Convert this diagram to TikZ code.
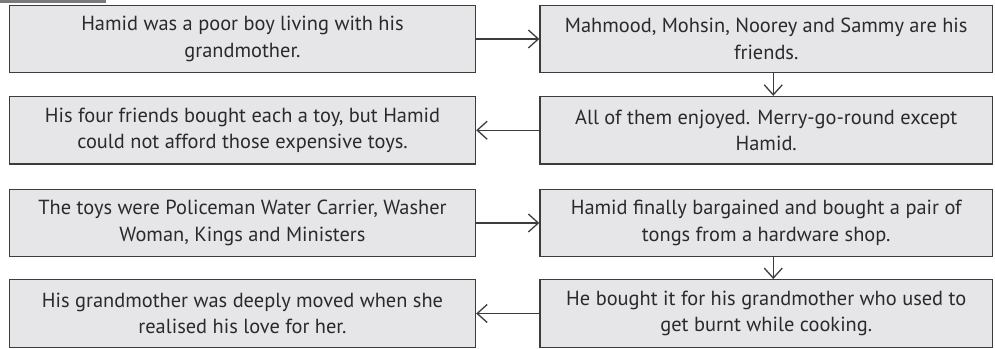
\documentclass[tikz,border=0pt]{standalone}
\usepackage{fontspec}
\setmainfont{PT Sans}
\usetikzlibrary{arrows.meta}
\definecolor{boxfill}{HTML}{E6E6E8}
\definecolor{boxline}{HTML}{3C3C3C}
\definecolor{txt}{HTML}{2A2A2A}
\definecolor{tabcol}{HTML}{7A7A7A}
\tikzset{
  stepbox/.style={draw=boxline, fill=boxfill, line width=1.4pt, inner sep=0pt,
    minimum height=67.5pt, text=txt, align=center,
    font=\fontsize{20.4}{26.5}\selectfont},
  leftbox/.style={stepbox, minimum width=466pt},
  rightbox/.style={stepbox, minimum width=452.5pt},
  conn/.style={draw=boxline, line width=1.3pt, -{Straight Barb[length=10pt,width=18pt,line width=1.3pt]}}
}
\begin{document}
\begin{tikzpicture}[x=1pt,y=-1pt]
\useasboundingbox (0,0) rectangle (995,348);
\fill[tabcol] (0,0) rectangle (106,3);
\node[leftbox]  (a1) at (242.5,39) {Hamid was a poor boy living with his\\grandmother.};
\node[rightbox] (b1) at (766.25,39) {Mahmood, Mohsin, Noorey and Sammy are his\\friends.};
\node[leftbox]  (a2) at (242.5,130.25) {His four friends bought each a toy, but Hamid\\could not afford those expensive toys.};
\node[rightbox] (b2) at (766.25,130.25) {All of them enjoyed. Merry-go-round except\\Hamid.};
\node[leftbox]  (a3) at (242.5,223) {The toys were Policeman Water Carrier, Washer\\Woman, Kings and Ministers};
\node[rightbox] (b3) at (766.25,223) {Hamid finally bargained and bought a pair of\\tongs from a hardware shop.};
\node[leftbox]  (a4) at (242.5,313.5) {His grandmother was deeply moved when she\\realised his love for her.};
\node[rightbox] (b4) at (766.25,313.5) {He bought it for his grandmother who used to\\get burnt while cooking.};
\draw[conn] (a1.east) -- (b1.west);
\draw[conn] ([xshift=7pt]b1.south) -- ([xshift=7pt]b2.north);
\draw[conn] (b2.west) -- (a2.east);
\draw[conn] (a3.east) -- (b3.west);
\draw[conn] ([xshift=7pt]b3.south) -- ([xshift=7pt]b4.north);
\draw[conn] (b4.west) -- (a4.east);
\end{tikzpicture}
\end{document}
